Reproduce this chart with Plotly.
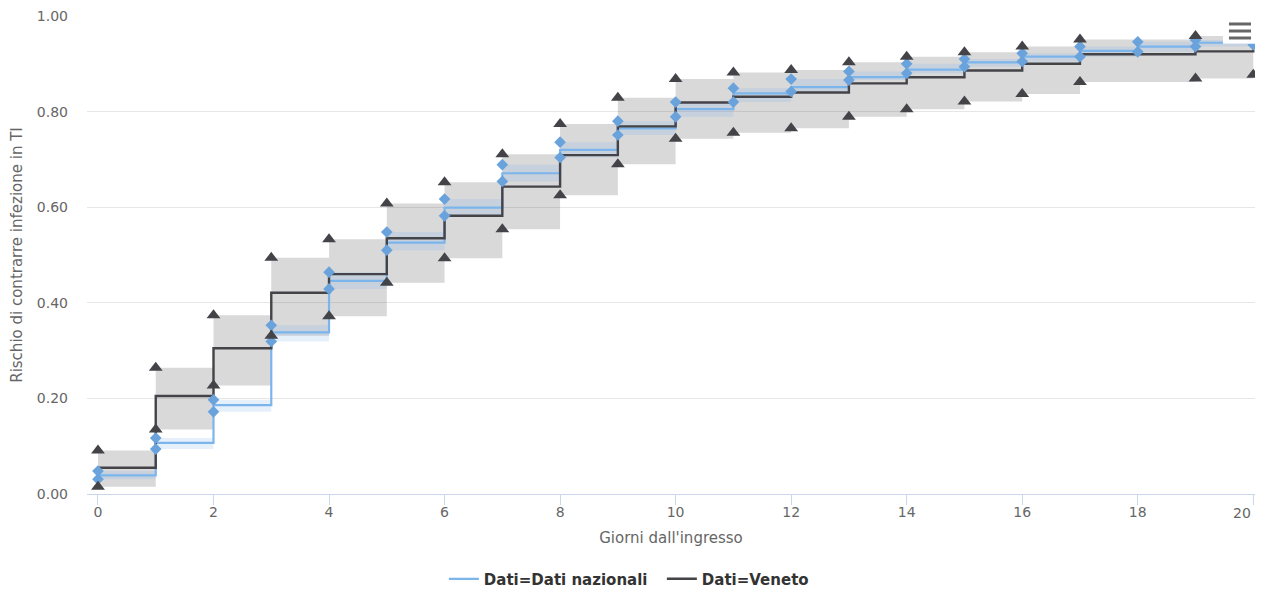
import plotly.graph_objects as go

# ---- data ----
days_naz = list(range(0, 21))
naz = [0.039, 0.107, 0.186, 0.338, 0.446, 0.526, 0.599, 0.671, 0.720, 0.765, 0.805,
       0.838, 0.851, 0.872, 0.888, 0.903, 0.915, 0.927, 0.936, 0.944, 0.945]
naz_lo = [0.031, 0.094, 0.172, 0.319, 0.429, 0.510, 0.582, 0.654, 0.704, 0.751, 0.789,
          0.820, 0.842, 0.866, 0.880, 0.894, 0.905, 0.915, 0.925, 0.936, 0.940]
naz_hi = [0.048, 0.117, 0.197, 0.353, 0.464, 0.548, 0.617, 0.689, 0.736, 0.780, 0.820,
          0.849, 0.868, 0.884, 0.900, 0.910, 0.922, 0.936, 0.946, 0.950, 0.950]

days_ven = [0, 1, 2, 3, 4, 5, 6, 7, 8, 9, 10, 11, 12, 13, 14, 15, 16, 17, 19, 20]
ven = [0.055, 0.205, 0.305, 0.421, 0.460, 0.535, 0.582, 0.643, 0.709, 0.769, 0.819,
       0.831, 0.840, 0.859, 0.872, 0.886, 0.900, 0.920, 0.926, 0.930]
ven_lo = [0.015, 0.135, 0.227, 0.331, 0.372, 0.442, 0.493, 0.554, 0.625, 0.690, 0.743,
          0.756, 0.765, 0.789, 0.805, 0.821, 0.837, 0.862, 0.869, 0.877]
ven_hi = [0.091, 0.264, 0.374, 0.494, 0.533, 0.608, 0.652, 0.711, 0.774, 0.829, 0.868,
          0.882, 0.887, 0.903, 0.915, 0.924, 0.936, 0.951, 0.958, 0.962]

x_ticks = list(range(0, 21, 2))
y_ticks = [0.0, 0.2, 0.4, 0.6, 0.8, 1.0]

C_NAZ = "#7cb5ec"
C_NAZ_MK = "#6aa3dc"
C_VEN = "#434348"
FONT = "DejaVu Sans"

fig = go.Figure()

# Veneto band
fig.add_trace(go.Scatter(x=days_ven, y=ven_lo, mode="lines", line=dict(width=0, shape="hv"),
                         showlegend=False, hoverinfo="skip"))
fig.add_trace(go.Scatter(x=days_ven, y=ven_hi, mode="lines", line=dict(width=0, shape="hv"),
                         fill="tonexty", fillcolor="rgba(67,67,72,0.2)",
                         showlegend=False, hoverinfo="skip"))
# National band
fig.add_trace(go.Scatter(x=days_naz, y=naz_lo, mode="lines", line=dict(width=0, shape="hv"),
                         showlegend=False, hoverinfo="skip"))
fig.add_trace(go.Scatter(x=days_naz, y=naz_hi, mode="lines", line=dict(width=0, shape="hv"),
                         fill="tonexty", fillcolor="rgba(124,181,236,0.2)",
                         showlegend=False, hoverinfo="skip"))

# lines
fig.add_trace(go.Scatter(x=days_naz, y=naz, mode="lines", name="Dati=Dati nazionali",
                         line=dict(color=C_NAZ, width=2.2, shape="hv")))
fig.add_trace(go.Scatter(x=days_ven, y=ven, mode="lines", name="Dati=Veneto",
                         line=dict(color=C_VEN, width=2.4, shape="hv")))

# markers at CI bounds
for arr in (naz_lo, naz_hi):
    fig.add_trace(go.Scatter(x=days_naz, y=arr, mode="markers", showlegend=False,
                             marker=dict(symbol="diamond", size=9, color=C_NAZ_MK,
                                         line=dict(width=0))))
for arr in (ven_lo, ven_hi):
    fig.add_trace(go.Scatter(x=days_ven, y=arr, mode="markers", showlegend=False,
                             marker=dict(symbol="triangle-up", size=12, color=C_VEN,
                                         line=dict(width=0))))

# export menu button (decoration)
shapes = [dict(type="rect", xref="paper", yref="paper", x0=0.9726, x1=1.0017, y0=0.942, y1=0.995,
               fillcolor="white", line=dict(width=0), layer="above")]
for yy in (0.9833, 0.9686, 0.954):
    shapes.append(dict(type="line", xref="paper", yref="paper", x0=0.9777, x1=0.9966, y0=yy, y1=yy,
                       line=dict(color="#666666", width=3), layer="above"))

# last x tick label is pulled inside the chart (as the reference does)
tick_text = [str(v) for v in x_ticks[:-1]] + [""]
annotations = [dict(text=str(x_ticks[-1]), xref="x", yref="paper", x=x_ticks[-1], y=0,
                    xanchor="right", yanchor="top", yshift=-9, showarrow=False,
                    font=dict(family=FONT, size=14, color="#666666"))]

fig.update_layout(
    width=1261, height=590,
    margin=dict(l=87, r=6, t=16, b=96),
    paper_bgcolor="white", plot_bgcolor="white",
    font=dict(family=FONT, color="#666666", size=14),
    showlegend=True,
    legend=dict(orientation="h", xref="container", x=0.352, xanchor="left",
                yref="container", y=0.0186, yanchor="middle",
                traceorder="normal", entrywidth=173, entrywidthmode="pixels",
                font=dict(family=FONT, size=15, color="#333333", weight="bold"),
                itemwidth=30, tracegroupgap=0),
    shapes=shapes,
    annotations=annotations,
    xaxis=dict(range=[-0.19, 20.03], tickvals=x_ticks, ticktext=tick_text,
               showgrid=False, zeroline=False,
               automargin=False,
               showline=True, linecolor="#ccd6eb", linewidth=1,
               ticks="outside", ticklen=10, tickcolor="#ccd6eb",
               tickfont=dict(size=14, color="#666666"), ticklabelstandoff=-5,
               title=dict(text="Giorni dall'ingresso", font=dict(size=15, color="#666666"), standoff=13)),
    yaxis=dict(range=[0, 1], tickvals=y_ticks, tickformat=".2f", showgrid=True,
               automargin=False,
               gridcolor="#e6e6e6", gridwidth=1, zeroline=False, showline=False,
               tickfont=dict(size=14, color="#666666"), ticklabelstandoff=18,
               title=dict(text="Rischio di contrarre infezione in TI", font=dict(size=15, color="#666666"),
                          standoff=10)),
)

fig.write_html("out.html", config={"displayModeBar": False},
               post_script="document.body.style.margin='0';document.body.style.overflow='hidden';")
